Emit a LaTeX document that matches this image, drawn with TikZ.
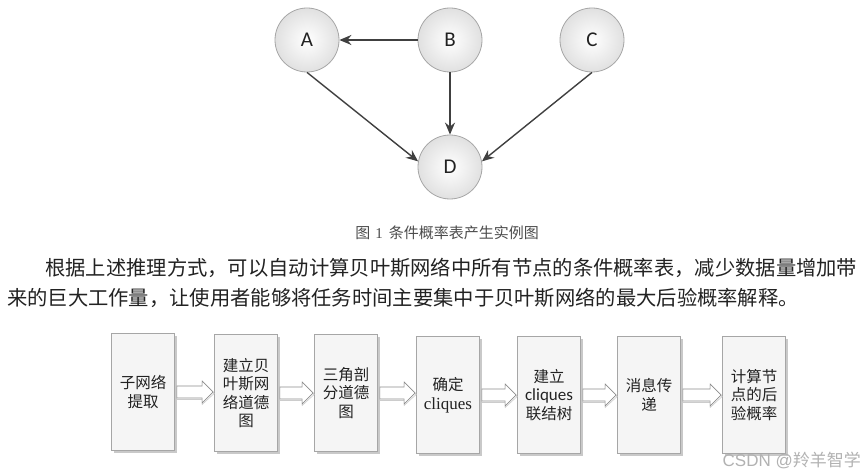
\documentclass[tikz,border=0pt]{standalone}
\usepackage{fontspec}
\setmainfont{Liberation Serif}
\newfontfamily\cjk{Noto Sans CJK SC}
\newfontfamily\cali{Carlito}
\newfontfamily\arialf{Liberation Sans}
\usetikzlibrary{arrows.meta,shadows,calc}
\definecolor{arrc}{HTML}{404040}
\definecolor{txt}{HTML}{222222}
\begin{document}
\begin{tikzpicture}[x=1pt,y=-1pt,
  bn/.style={circle, draw=black!35, line width=0.8pt, minimum size=64pt, inner sep=0pt,
    shading=radial, inner color=white, outer color=black!12,
    font=\cali\fontsize{21}{21}\selectfont, text=txt},
  edge/.style={draw=arrc, line width=1.4pt, -{Stealth[length=12pt,width=10pt]}},
  stepbox/.style={draw=black!35, line width=0.7pt, fill=black!4, minimum width=63pt,
    minimum height=117pt, inner sep=1pt, align=center,
    drop shadow={shadow xshift=2pt,shadow yshift=-2pt,opacity=0.35,fill=black!60},
    font=\cjk\fontsize{15.5}{18.5}\selectfont, text=txt},
  flowarr/.style={draw=black!45, line width=0.6pt, fill=white},
  flowshadow/.style={draw=black!20, line width=0.6pt},
  paraline/.style={anchor=west, inner sep=0pt, font=\cjk\fontsize{20.3}{20.3}\selectfont, text=txt}
]
\useasboundingbox (0,0) rectangle (865,476);
\fill[white] (0,0) rectangle (865,476);

% Bayesian network
\node[bn] (A) at (307,40) {A};
\node[bn] (B) at (450,40) {B};
\node[bn] (C) at (592,40) {C};
\node[bn] (D) at (450,167) {D};
\draw[edge] (B.west) -- (A.east);
\draw[edge] (B.south) -- (D.north);
\draw[edge] (A.south) -- (D.170);
\draw[edge] (C.south) -- (D.10);

% caption
\node[font=\cjk\fontsize{15}{15}\selectfont, text=black!70] (cap) at (447,233) {图\hspace{5pt}{\rmfamily 1}\hspace{6pt}条件概率表产生实例图};

% paragraph
\node[paraline] (p1) at (45,268) {根据上述推理方式，可以自动计算贝叶斯网络中所有节点的条件概率表，减少数据量增加带};
\node[paraline] (p2) at (7,298) {来的巨大工作量，让使用者能够将任务时间主要集中于贝叶斯网络的最大后验概率解释。};

% flow chart
\node[stepbox] (s1) at (143,392) {子网络\\提取};
\node[stepbox] (s2) at (246,393) {建立贝\\叶斯网\\络道德\\图};
\node[stepbox] (s3) at (346,393) {三角剖\\分道德\\图};
\node[stepbox] (s4) at (448,395) {确定\\{\rmfamily\fontsize{17}{18.5}\selectfont cliques}};
\node[stepbox] (s5) at (549,395) {建立\\{\cali\fontsize{17}{18.5}\selectfont cliques}\\联结树};
\node[stepbox] (s6) at (649,395) {消息传\\递};
\node[stepbox] (s7) at (754,395) {计算节\\点的后\\验概率};

\foreach \a/\b in {s1/s2,s2/s3,s3/s4,s4/s5,s5/s6,s6/s7}{
  \draw[flowshadow] let \p1=($(\a.east)+(2pt,-1.5pt)$), \p2=($(\b.west)+(0pt,-1.5pt)$) in
    (\x1,\y1+6pt) -- (\x2-12pt,\y1+6pt) -- (\x2-12pt,\y1+11pt) -- (\x2,\y1)
    -- (\x2-12pt,\y1-11pt) -- (\x2-12pt,\y1-6pt) -- (\x1,\y1-6pt);
  \draw[flowarr] let \p1=($(\a.east)+(2pt,0)$), \p2=(\b.west) in
    (\x1,\y1+6pt) -- (\x2-12pt,\y1+6pt) -- (\x2-12pt,\y1+11pt) -- (\x2-1pt,\y1)
    -- (\x2-12pt,\y1-11pt) -- (\x2-12pt,\y1-6pt) -- (\x1,\y1-6pt) -- cycle;
}

% watermark text
\node[anchor=east, inner sep=0pt, text=black!30, font=\fontsize{17}{17}\selectfont] (wm) at (861,460) {\arialf CSDN @\cjk 羚羊智学};
\end{tikzpicture}
\end{document}
